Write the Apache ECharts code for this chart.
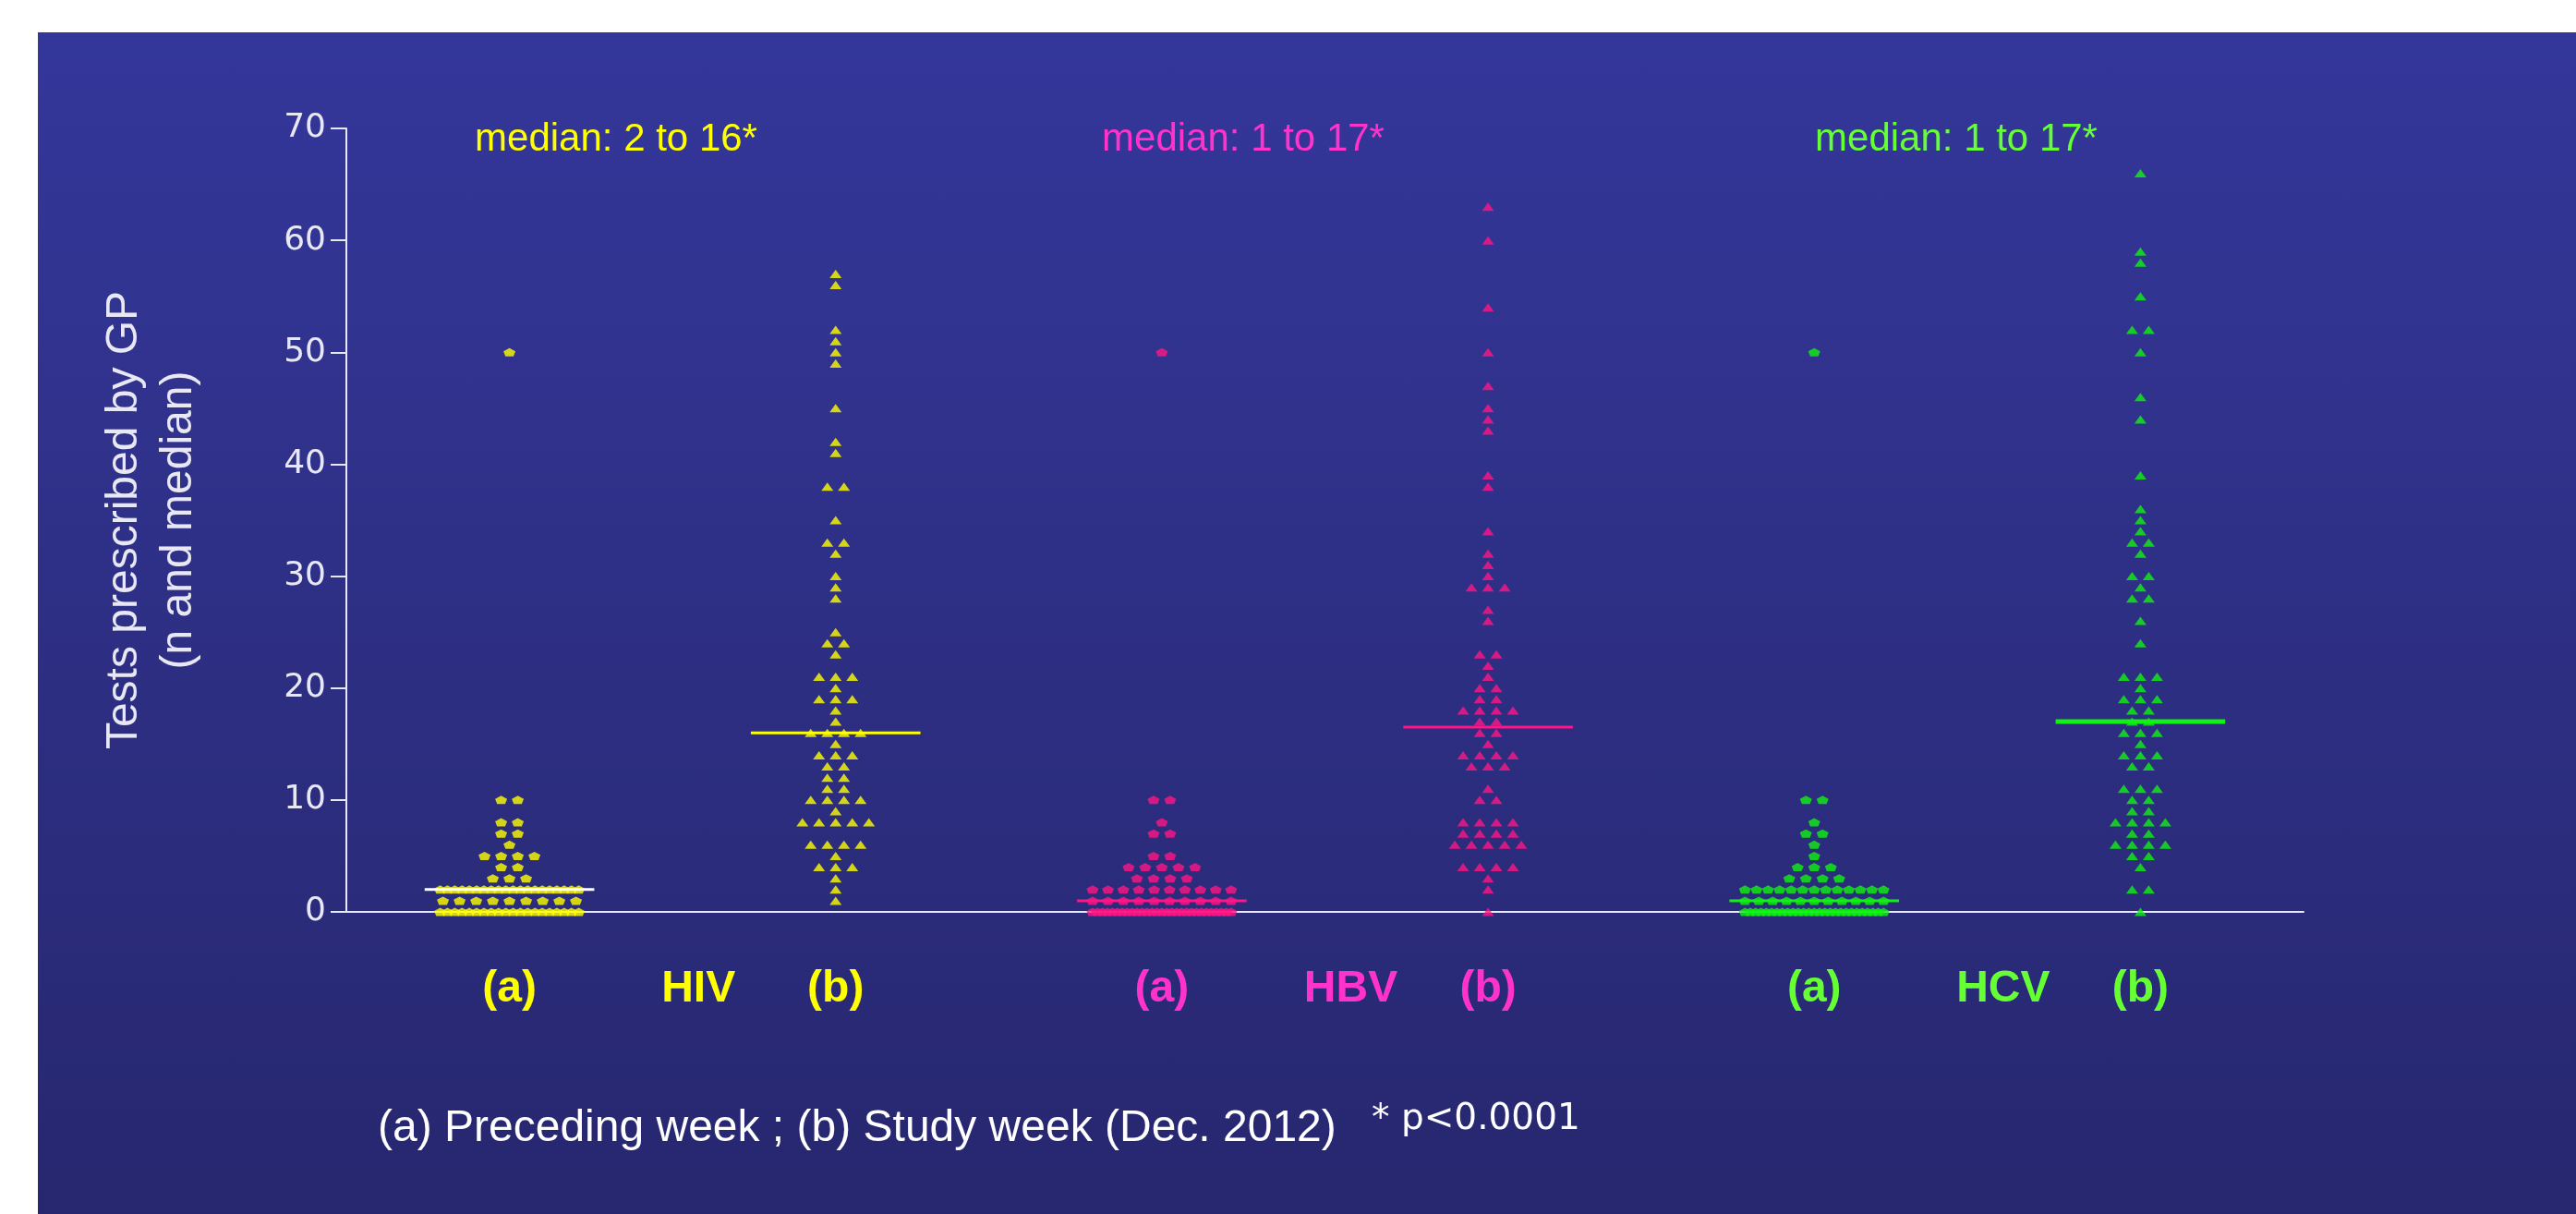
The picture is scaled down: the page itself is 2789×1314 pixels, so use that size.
<!DOCTYPE html>
<html>
<head>
<meta charset="utf-8">
<script src="https://cdn.jsdelivr.net/npm/echarts@6/dist/echarts.min.js"></script>
<style>
  html, body { margin: 0; padding: 0; background: #fff; width: 2789px; height: 1314px; overflow: hidden; }
  #chart {
    position: absolute; left: 41px; top: 35px; width: 2748px; height: 1279px;
    background: linear-gradient(to bottom, #34379a, #27276f);
  }
</style>
</head>
<body>
<div id="chart"></div>
<script>
// axis content
const categories = ['(a)', '(b)', '(a)', '(b)', '(a)', '(b)']
const viruses = ['HIV', 'HBV', 'HCV']
const yTicks = [0, 10, 20, 30, 40, 50, 60, 70]

// tests per GP as [number of tests, number of GPs]
const hivPreceding = [[0, 20], [1, 9], [2, 20], [3, 3], [4, 2], [5, 4], [6, 1], [7, 2], [8, 2], [10, 2], [50, 1]]
const hivStudy = [[1, 1], [2, 1], [3, 1], [4, 3], [5, 1], [6, 4], [8, 5], [9, 1], [10, 4], [11, 2], [12, 2], [13, 2],
  [14, 3], [15, 1], [16, 4], [17, 1], [18, 1], [19, 3], [20, 1], [21, 3], [23, 1], [24, 2], [25, 1], [28, 1], [29, 1],
  [30, 1], [32, 1], [33, 2], [35, 1], [38, 2], [41, 1], [42, 1], [45, 1], [49, 1], [50, 1], [51, 1], [52, 1], [56, 1], [57, 1]]
const hbvPreceding = [[0, 29], [1, 10], [2, 10], [3, 4], [4, 5], [5, 2], [7, 2], [8, 1], [10, 2], [50, 1]]
const hbvStudy = [[0, 1], [2, 1], [3, 1], [4, 4], [6, 5], [7, 4], [8, 4], [10, 2], [11, 1], [13, 3], [14, 4], [15, 1],
  [16, 2], [17, 2], [18, 4], [19, 2], [20, 2], [21, 1], [22, 1], [23, 2], [26, 1], [27, 1], [29, 3], [30, 1], [31, 1],
  [32, 1], [34, 1], [38, 1], [39, 1], [43, 1], [44, 1], [45, 1], [47, 1], [50, 1], [54, 1], [60, 1], [63, 1]]
const hcvPreceding = [[0, 27], [1, 11], [2, 13], [3, 4], [4, 3], [5, 1], [6, 1], [7, 2], [8, 1], [10, 2], [50, 1]]
const hcvStudy = [[0, 1], [2, 2], [4, 1], [5, 2], [6, 4], [7, 2], [8, 4], [9, 2], [10, 2], [11, 3], [13, 2], [14, 3],
  [15, 1], [16, 3], [17, 2], [18, 2], [19, 3], [20, 1], [21, 3], [24, 1], [26, 1], [28, 2], [29, 1], [30, 2], [32, 1],
  [33, 2], [34, 1], [35, 1], [36, 1], [39, 1], [44, 1], [46, 1], [50, 1], [52, 2], [55, 1], [58, 1], [59, 1], [66, 1]]

const groups = [hivPreceding, hivStudy, hbvPreceding, hbvStudy, hcvPreceding, hcvStudy]
const medianTexts = ['median: 2 to 16*', 'median: 1 to 17*', 'median: 1 to 17*']

const markColors = ['#ffff00', '#ffff00', '#ff1585', '#ff1585', '#10f210', '#10f210']
const medianColors = ['#ffffff', '#ffff00', '#ff1585', '#ff1585', '#10f210', '#10f210']
const textColors = ['#ffff00', '#ff33cc', '#66ff33']

const SANS = '"Liberation Sans", Arial, sans-serif'
const WIDE = '"DejaVu Sans", Verdana, sans-serif'
const AXIS = '#e8e8f4'
const PENTAGON = 'path://M6,0 L12,3.8 L10,10 L2,10 L0,3.8 Z'

const grid = { left: 334, top: 104, width: 2119, height: 848 }
const unit = grid.width / categories.length

// spread points that share a value side by side (beeswarm)
const swarm = (counts, centre) => {
  const pts = []
  counts.forEach(([v, n]) => {
    const gap = n > 1 ? Math.min(18, 150 / (n - 1)) : 0
    for (let i = 0; i < n; i++) pts.push([centre + (i - (n - 1) / 2) * gap / unit, v])
  })
  return pts
}

const median = (counts) => {
  const vals = []
  counts.forEach(([v, n]) => { for (let i = 0; i < n; i++) vals.push(v) })
  vals.sort((a, b) => a - b)
  const m = vals.length / 2
  return vals.length % 2 ? vals[Math.floor(m)] : (vals[m - 1] + vals[m]) / 2
}

const series = []
groups.forEach((g, i) => {
  series.push({
    type: 'scatter',
    xAxisIndex: 0,
    symbol: i % 2 ? 'triangle' : PENTAGON,
    symbolSize: i % 2 ? [13, 9] : [13, 9],
    itemStyle: { color: markColors[i] },
    data: swarm(g, i),
    z: 2
  })
  const med = median(g)
  series.push({
    type: 'line',
    xAxisIndex: 0,
    symbol: 'none',
    lineStyle: { color: medianColors[i], width: i === 5 ? 5 : 3 },
    data: [[i - 0.26, med], [i + 0.26, med]],
    z: 3
  })
})

const chart = echarts.init(document.getElementById('chart'))

chart.setOption({
  backgroundColor: 'transparent',
  animation: false,
  grid: grid,
  xAxis: [
    { type: 'value', min: -0.5, max: 5.5, show: false },
    {
      type: 'category',
      position: 'bottom',
      data: categories,
      axisLine: { lineStyle: { color: AXIS, width: 2 } },
      axisTick: { alignWithLabel: true, length: 10, lineStyle: { color: AXIS, width: 3 } },
      axisLabel: {
        margin: 60,
        fontFamily: SANS,
        fontWeight: 'bold',
        fontSize: 48,
        color: (v, idx) => textColors[Math.floor(idx / 2)]
      }
    },
    {
      type: 'category',
      position: 'bottom',
      data: viruses,
      axisLine: { show: false },
      axisTick: { show: false },
      axisLabel: {
        margin: 60,
        padding: [0, 0, 0, 56],
        fontFamily: SANS,
        fontWeight: 'bold',
        fontSize: 48,
        color: (v, idx) => textColors[idx]
      }
    }
  ],
  yAxis: {
    type: 'value',
    min: yTicks[0],
    max: yTicks[yTicks.length - 1],
    interval: 10,
    name: 'Tests prescribed by GP\n(n and median)',
    nameLocation: 'middle',
    nameGap: 152,
    nameTextStyle: { color: AXIS, fontFamily: SANS, fontSize: 48, lineHeight: 59 },
    axisLine: { show: true, onZero: false, lineStyle: { color: AXIS, width: 2 } },
    axisTick: { show: true, length: 17, lineStyle: { color: AXIS, width: 2 } },
    axisLabel: { color: AXIS, fontFamily: WIDE, fontSize: 36, margin: 22 },
    splitLine: { show: false }
  },
  graphic: [
    ...medianTexts.map((t, i) => ({
      type: 'text',
      x: [626, 1305, 2077][i],
      y: 116,
      style: { text: t, fill: textColors[i], font: '42px ' + SANS, align: 'center', verticalAlign: 'middle' }
    })),
    {
      type: 'text', x: 368, y: 1187,
      style: { text: '(a) Preceding week ; (b) Study week (Dec. 2012)', fill: '#ffffff', font: '48px ' + SANS, verticalAlign: 'middle' }
    },
    {
      type: 'text', x: 1444, y: 1177,
      style: { text: '* p<0.0001', fill: '#ffffff', font: '39px ' + WIDE, verticalAlign: 'middle' }
    }
  ],
  series: series
})
</script>
</body>
</html>
